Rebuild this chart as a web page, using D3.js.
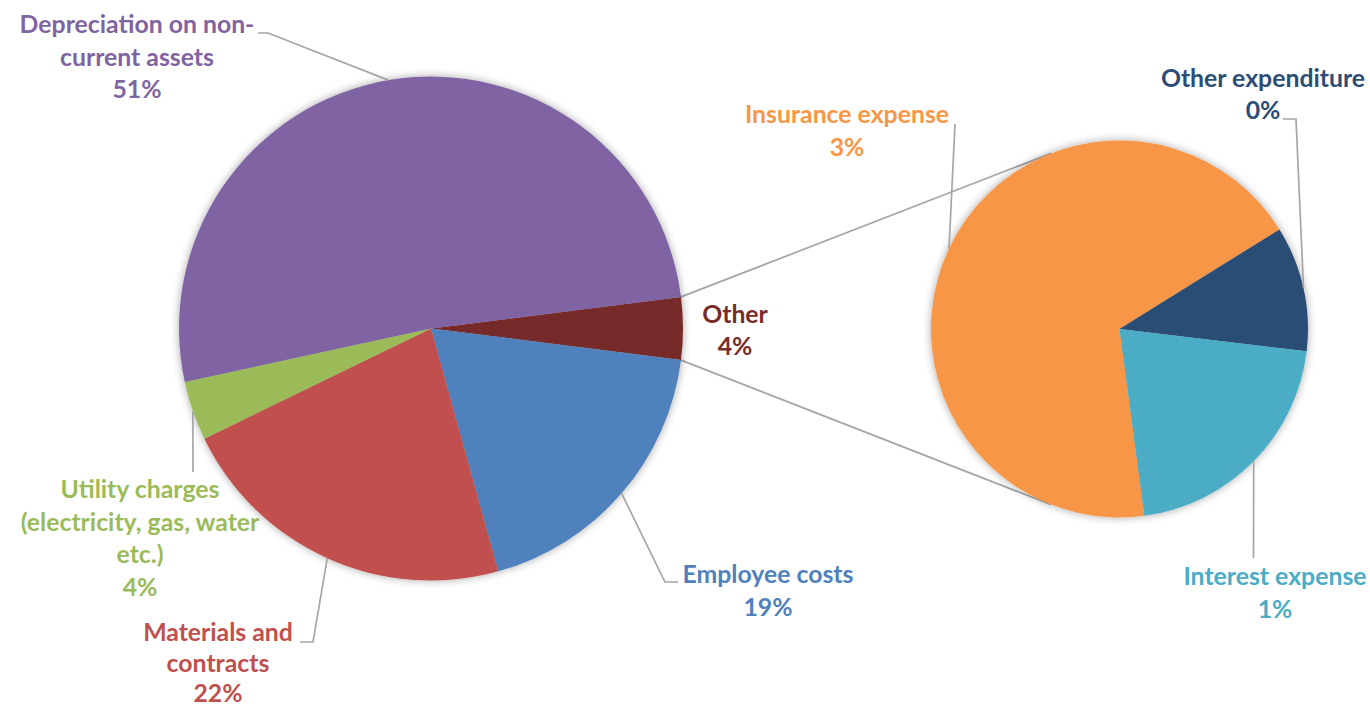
<!DOCTYPE html>
<html>
<head>
<meta charset="utf-8">
<script src="https://cdn.jsdelivr.net/npm/d3@7"></script>
<style>
  html, body { margin: 0; padding: 0; background: #fff; }
  svg { display: block; }
  text { font-family: Lato, "Open Sans", sans-serif; font-weight: 700; }
</style>
</head>
<body>
<svg id="chart" width="1370" height="706"></svg>
<script>
// Expenditure shares (% of total)
const mainCategories = [
  "Depreciation on non-current assets",
  "Materials and contracts",
  "Employee costs",
  "Utility charges (electricity, gas, water etc.)"
];
const mainValues = [51.4, 22.1, 18.7, 3.8];

// Items grouped into "Other" and broken out in the secondary pie
const otherCategories = ["Insurance expense", "Other expenditure", "Interest expense"];
const otherValues = [2.73, 0.43, 0.84];

const otherLabel = "Other";

// Wrapped label text for each category
const labelLines = {
  "Depreciation on non-current assets": ["Depreciation on non-", "current assets"],
  "Materials and contracts": ["Materials and", "contracts"],
  "Employee costs": ["Employee costs"],
  "Utility charges (electricity, gas, water etc.)": ["Utility charges", "(electricity, gas, water", "etc.)"],
  "Other": ["Other"],
  "Insurance expense": ["Insurance expense"],
  "Other expenditure": ["Other expenditure"],
  "Interest expense": ["Interest expense"]
};

const colors = {
  "Depreciation on non-current assets": "#8064A2",
  "Materials and contracts": "#C0504D",
  "Employee costs": "#4F81BD",
  "Utility charges (electricity, gas, water etc.)": "#9BBB59",
  "Other": "#772C2A",
  "Insurance expense": "#F79646",
  "Other expenditure": "#2C4D75",
  "Interest expense": "#4BACC6"
};

const svg = d3.select("#chart");
const total = d3.sum(mainValues) + d3.sum(otherValues);
const pct = d3.format(".0%");

// Soft shadow around both pies
const defs = svg.append("defs");
const f = defs.append("filter").attr("id", "soft")
  .attr("x", "-20%").attr("y", "-20%").attr("width", "140%").attr("height", "140%");
f.append("feDropShadow").attr("dx", 0).attr("dy", 0)
  .attr("stdDeviation", 4).attr("flood-color", "#000").attr("flood-opacity", 0.35);

// Geometry of the two pies
const main = { cx: 431, cy: 328.5, r: 252 };
const sec = { cx: 1119.5, cy: 329, r: 188.5 };

// Main pie: "Other" centred on the right, then clockwise
// Employee costs, Materials, Utility charges, Depreciation
const otherTotal = d3.sum(otherValues);
const mainOrder = [2, 1, 3, 0];
const mainData = [{ name: otherLabel, value: otherTotal }].concat(
  mainOrder.map(i => ({ name: mainCategories[i], value: mainValues[i] }))
);
const otherSpan = otherTotal / total * 2 * Math.PI;
const mainStart = Math.PI / 2 - otherSpan / 2;
const mainPie = d3.pie().sort(null).value(d => d.value)
  .startAngle(mainStart).endAngle(mainStart + 2 * Math.PI);
const mainArcs = mainPie(mainData);

// Secondary pie
const secData = otherCategories.map((c, i) => ({ name: c, value: otherValues[i] }));
const secStart = 172.4 * Math.PI / 180;
const secPie = d3.pie().sort(null).value(d => d.value)
  .startAngle(secStart).endAngle(secStart + 2 * Math.PI);
const secArcs = secPie(secData);

// point on a circle at a d3 pie angle (0 = 12 o'clock, clockwise)
function polar(c, r, a) {
  return [c.cx + r * Math.sin(a), c.cy - r * Math.cos(a)];
}

// Connector lines: from the "Other" slice edges, tangent to the secondary pie
const otherArc = mainArcs[0];
function tangent(p, upper) {
  const dx = p[0] - sec.cx, dy = p[1] - sec.cy;
  const d = Math.hypot(dx, dy);
  const base = Math.atan2(dy, dx);
  const off = Math.acos(sec.r / d);
  const a = upper ? base + off : base - off;
  return [sec.cx + sec.r * Math.cos(a), sec.cy + sec.r * Math.sin(a)];
}
const pTop = polar(main, main.r, otherArc.startAngle);
const pBot = polar(main, main.r, otherArc.endAngle);
const lineGray = "#A6A6A6";
svg.append("g").selectAll("line").data([[pTop, tangent(pTop, true)], [pBot, tangent(pBot, false)]])
  .join("line")
  .attr("x1", d => d[0][0]).attr("y1", d => d[0][1])
  .attr("x2", d => d[1][0]).attr("y2", d => d[1][1])
  .attr("stroke", lineGray).attr("stroke-width", 1.7);

// Draw pies
function drawPie(c, arcs) {
  const arc = d3.arc().innerRadius(0).outerRadius(c.r);
  svg.append("g")
    .attr("transform", `translate(${c.cx},${c.cy})`)
    .attr("filter", "url(#soft)")
    .selectAll("path").data(arcs).join("path")
    .attr("d", arc)
    .attr("fill", d => colors[d.data.name]);
}
drawPie(main, mainArcs);
drawPie(sec, secArcs);

// Label placement: first baseline, centre x, and leader elbow points
const lineH = 32.5;
const labelLayout = {
  "Depreciation on non-current assets": { x: 137, y: 33, leader: [[268, 33], [258, 33]] },
  "Materials and contracts": { x: 218, y: 641, leader: [[313, 642], [300, 642]], lh: 30.5 },
  "Employee costs": { x: 768, y: 583, leader: [[665, 582], [678, 582]] },
  "Utility charges (electricity, gas, water etc.)": { x: 140, y: 498, leader: [[193, 472]] },
  "Other": { x: 735, y: 323, leader: null, lh: 31.5 },
  "Insurance expense": { x: 847, y: 123, leader: [[955, 124]] },
  "Other expenditure": { x: 1263, y: 87, leader: [[1296, 119], [1283, 119]], lh: 31.5 },
  "Interest expense": { x: 1275, y: 585, leader: [[1253.5, 558]] }
};

function drawLabels(c, arcs) {
  arcs.forEach(d => {
    const name = d.data.name;
    const L = labelLayout[name];
    const color = colors[name];
    if (L.leader) {
      const mid = (d.startAngle + d.endAngle) / 2;
      const pts = [polar(c, c.r, mid)].concat(L.leader);
      svg.append("path")
        .attr("d", d3.line()(pts))
        .attr("fill", "none")
        .attr("stroke", lineGray)
        .attr("stroke-width", 1.7);
    }
    const lines = labelLines[name].concat([pct(d.data.value / total)]);
    const lh = L.lh || lineH;
    const t = svg.append("text")
      .attr("text-anchor", "middle")
      .attr("fill", color)
      .attr("font-size", 24.8);
    lines.forEach((s, i) => {
      t.append("tspan").attr("x", L.x).attr("y", L.y + i * lh).text(s);
    });
  });
}
drawLabels(main, mainArcs);
drawLabels(sec, secArcs);
</script>
</body>
</html>
